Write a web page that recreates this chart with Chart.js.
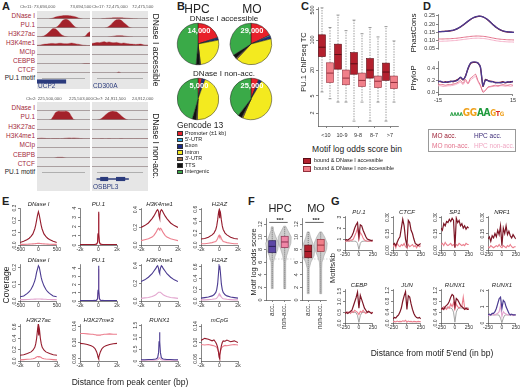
<!DOCTYPE html>
<html>
<head>
<meta charset="utf-8">
<script src="https://cdn.jsdelivr.net/npm/chart.js@4.4.1/dist/chart.umd.min.js"></script>
<style>
  body { margin: 0; background: #fff; }
  #fig { position: relative; width: 520px; height: 390px; overflow: hidden; font-family: "Liberation Sans", Arial, sans-serif; color: #222; }
  #fig canvas { position: absolute; }
  .t { position: absolute; white-space: nowrap; line-height: 1; }
  .box { position: absolute; }
</style>
</head>
<body>
<div id="fig"></div>
<script>
// ---------------- data ----------------
// A: genome browser tracks (relative signal, 24 bins per locus)
const trackNames = ["DNase I", "PU.1", "H3K27ac", "H3K4me1", "MCIp", "CEBPB", "CTCF"];
const ucp2Tracks = [
  [0,0,0,0,0,0,0.05,0.12,0.22,0.3,0.34,0.38,0.4,0.4,0.38,0.35,0.3,0.22,0.12,0.05,0,0,0,0],
  [0,0,0,0,0,0,0,0,0.05,0.2,0.5,0.85,1,1,0.85,0.55,0.25,0.05,0,0,0,0,0,0],
  [0,0.02,0.05,0.12,0.28,0.52,0.8,1,0.95,0.72,0.42,0.2,0.08,0.03,0,0,0,0,0,0,0.02,0.12,0.45,0.62],
  [0.08,0.1,0.14,0.2,0.22,0.26,0.3,0.3,0.27,0.3,0.32,0.3,0.27,0.25,0.3,0.34,0.3,0.24,0.2,0.15,0.1,0.08,0.05,0.05],
  [0,0,0,0,0,0,0,0,0,0,0,0,0,0,0,0,0,0,0,0,0,0,0,0],
  [0,0,0,0,0,0,0,0,0,0,0,0,0,0,0,0,0,0,0,0,0.03,0.05,0.05,0.03],
  [0,0,0,0,0,0,0,0,0,0,0,0,0,0,0,0,0,0,0,0,0,0,0,0]
];
const cd300aTracks = [
  [0,0,0,0,0.03,0.05,0.08,0.1,0.12,0.14,0.15,0.15,0.14,0.12,0.1,0.08,0.06,0.04,0.02,0,0,0,0,0],
  [0,0,0,0,0,0,0.05,0.2,0.45,0.75,0.95,1,0.9,0.65,0.4,0.15,0.03,0,0,0,0,0,0,0],
  [0,0,0,0,0,0,0,0.03,0.06,0.1,0.14,0.16,0.15,0.12,0.08,0.05,0.02,0,0,0,0,0,0,0],
  [0.3,0.35,0.4,0.38,0.45,0.5,0.42,0.48,0.4,0.38,0.42,0.36,0.3,0.35,0.3,0.25,0.22,0.2,0.18,0.2,0.22,0.15,0.12,0.1],
  [0,0,0,0,0,0,0,0,0,0,0,0,0,0,0,0,0,0,0,0,0,0,0,0],
  [0,0,0,0,0,0,0,0,0,0,0,0,0,0,0,0,0,0,0,0,0,0,0,0],
  [0,0,0,0,0,0,0,0,0,0,0,0.12,0,0,0,0,0,0,0,0,0,0,0,0]
];
const chr2Tracks = [
  [0,0,0,0,0,0,0,0,0,0,0.02,0.02,0.02,0,0,0,0,0,0,0,0,0,0,0],
  [0,0,0,0,0,0,0.05,0.4,0.85,1,1,1,1,1,0.85,0.4,0.05,0,0,0,0,0,0,0],
  [0,0,0,0,0,0,0,0,0,0,0,0,0,0,0,0,0,0,0,0,0,0,0,0],
  [0.05,0.08,0.1,0.08,0.06,0.05,0.04,0.05,0.06,0.05,0.04,0.05,0.08,0.1,0.12,0.1,0.12,0.1,0.08,0.05,0.04,0.03,0.02,0.02],
  [0,0,0,0,0,0,0,0,0,0,0,0,0,0,0,0,0,0,0,0,0,0,0,0],
  [0,0,0,0,0,0,0,0,0.04,0.08,0.08,0.08,0.04,0,0,0,0,0,0,0,0,0,0,0],
  [0,0,0,0,0,0,0,0,0,0,0,0,0,0,0,0,0,0,0,0,0,0,0,0]
];
const chr7Tracks = [
  [0,0,0,0,0,0,0,0,0,0,0,0,0,0,0,0,0,0,0,0,0,0,0,0],
  [0,0,0,0.05,0.2,0.45,0.7,0.9,1,1,0.95,0.75,0.5,0.25,0.08,0,0,0,0,0,0,0,0,0],
  [0,0,0,0,0,0,0,0,0,0,0,0,0,0,0,0,0,0,0,0,0,0,0,0],
  [0.04,0.04,0.03,0.04,0.05,0.04,0.04,0.05,0.04,0.04,0.03,0.04,0.05,0.04,0.03,0.04,0.04,0.03,0.04,0.04,0.03,0.03,0.04,0.04],
  [0,0,0,0,0,0,0,0,0,0,0,0,0,0,0,0,0,0,0,0,0,0,0,0],
  [0,0,0,0,0,0,0,0,0,0,0,0,0,0,0,0,0,0,0,0,0,0,0,0],
  [0,0,0,0,0,0,0,0,0,0,0,0,0,0,0,0,0,0,0,0,0,0,0,0]
];
const ucp2Motifs = [12];
const cd300aMotifs = [11];
const chr2Motifs = [1, 2, 3, 12, 23];
const chr7Motifs = [9, 10, 11];
const ucp2Exons = [[0, 12.5]];
const osbpl3Exons = [[3.5, 6.5], [10, 13.5]];
const osbpl3Span = [[2, 15]];

// B: Gencode 13 annotation (% of peaks)
const annotCats = ["Promoter (\u00b11 kb)", "5'-UTR", "Exon", "Intron", "3'-UTR", "TTS", "Intergenic"];
const annotColors = ["#e8202a", "#2aa9e0", "#1b2a88", "#f3ea1f", "#a0704f", "#111111", "#3aaa48"];
const hpcAccPie = [20, 0.5, 1.5, 26, 0.5, 3, 48.5];
const moAccPie = [18, 1, 2, 41, 1, 3, 34];
const hpcNonPie = [3, 0.5, 2, 45, 1, 3, 45.5];
const moNonPie = [6, 0.5, 2, 48, 1, 3, 39.5];
const pieCounts = ["14,000", "29,000", "5,000", "25,000"];

// C: PU.1 ChIP-seq tag count per motif score bin (boxplot stats)
const cBins = ["<10", "10-9", "9-8", "8-7", ">7"];
const accMin = [6.2, 3.6, 1.3, 1.3, 1.3];
const accQ1 = [41, 21, 16, 13, 11.5];
const accMed = [68, 46, 28, 20, 18];
const accQ3 = [132, 80, 51, 37, 29];
const accMax = [560, 380, 290, 195, 205];
const nonMin = [4.3, 3.6, 3.6, 3.6, 3.6];
const nonQ1 = [10.3, 9.1, 8.3, 7.8, 7.4];
const nonMed = [17, 13, 11.5, 11, 10.3];
const nonQ3 = [29.5, 20, 17, 14.5, 14.5];
const nonMax = [195, 165, 140, 118, 95];

// D: conservation around motif
const dX = [-15,-14,-13,-12,-11,-10,-9,-8,-7,-6,-5,-4,-3,-2,-1,0,1,2,3,4,5,6,7,8,9,10,11,12,13,14,15];
const phastMOAcc = [0.155,0.155,0.156,0.157,0.158,0.160,0.163,0.168,0.175,0.184,0.195,0.207,0.219,0.230,0.239,0.245,0.248,0.247,0.242,0.233,0.221,0.207,0.193,0.180,0.170,0.162,0.157,0.154,0.152,0.151,0.150];
const phastHPCAcc = [0.154,0.155,0.155,0.156,0.158,0.161,0.164,0.169,0.176,0.185,0.196,0.208,0.220,0.231,0.240,0.246,0.249,0.248,0.243,0.234,0.222,0.208,0.194,0.181,0.171,0.163,0.158,0.155,0.153,0.151,0.150];
const phastMONon = [0.110,0.110,0.110,0.111,0.111,0.112,0.113,0.114,0.116,0.118,0.120,0.122,0.124,0.126,0.127,0.128,0.128,0.127,0.126,0.124,0.121,0.118,0.115,0.112,0.110,0.108,0.107,0.106,0.105,0.105,0.104];
const phastHPCNon = [0.096,0.096,0.097,0.097,0.098,0.099,0.100,0.101,0.103,0.105,0.107,0.109,0.111,0.113,0.114,0.115,0.115,0.114,0.113,0.111,0.108,0.105,0.102,0.099,0.097,0.095,0.094,0.093,0.092,0.092,0.091];
const phyloMOAcc = [0.19,0.18,0.17,0.18,0.17,0.19,0.18,0.20,0.22,0.25,0.21,0.28,0.40,0.49,0.51,0.51,0.50,0.42,0.10,0.22,0.20,0.19,0.18,0.17,0.16,0.17,0.18,0.16,0.17,0.18,0.18];
const phyloHPCAcc = [0.18,0.19,0.17,0.17,0.18,0.18,0.19,0.19,0.21,0.26,0.22,0.27,0.41,0.50,0.52,0.52,0.50,0.43,0.11,0.21,0.20,0.18,0.18,0.16,0.17,0.16,0.17,0.17,0.18,0.17,0.19];
const phyloMONon = [0.14,0.13,0.13,0.12,0.13,0.13,0.14,0.15,0.17,0.20,0.15,0.22,0.15,0.24,0.27,0.31,0.20,0.12,0.00,0.03,0.09,0.10,0.11,0.12,0.11,0.12,0.13,0.12,0.12,0.13,0.12];
const phyloHPCNon = [0.11,0.11,0.10,0.10,0.11,0.11,0.12,0.13,0.15,0.17,0.13,0.19,0.14,0.21,0.24,0.27,0.18,0.10,0.02,0.04,0.08,0.09,0.10,0.10,0.10,0.11,0.11,0.10,0.11,0.10,0.11];

// E: coverage profiles around peak centers
const xE1 = [-500,-400,-300,-250,-200,-150,-100,-75,-50,-25,0,25,50,75,100,150,200,250,300,400,500];
const xE2 = [-2000,-1600,-1200,-800,-600,-400,-300,-200,-100,-50,0,50,100,200,300,400,600,800,1200,1600,2000];
const eDNaseMOAcc = [0.02,0.03,0.045,0.055,0.07,0.09,0.13,0.16,0.2,0.24,0.27,0.24,0.2,0.16,0.13,0.09,0.07,0.055,0.045,0.03,0.02];
const eDNaseMONon = [0.005,0.005,0.006,0.007,0.008,0.009,0.01,0.011,0.012,0.013,0.013,0.013,0.012,0.011,0.01,0.009,0.008,0.007,0.006,0.005,0.005];
const ePU1MOAcc = [0.05,0.05,0.05,0.06,0.06,0.07,0.08,0.1,0.3,1.2,3.6,1.2,0.3,0.1,0.08,0.07,0.06,0.06,0.05,0.05,0.05];
const ePU1MONon = [0.04,0.04,0.04,0.05,0.05,0.06,0.07,0.09,0.28,1.1,3.4,1.1,0.28,0.09,0.07,0.06,0.05,0.05,0.04,0.04,0.04];
const eK4MOAcc = [0.2,0.22,0.25,0.3,0.33,0.37,0.39,0.4,0.38,0.33,0.3,0.33,0.38,0.4,0.39,0.37,0.33,0.3,0.25,0.22,0.2];
const eK4MONon = [0.05,0.06,0.07,0.09,0.11,0.14,0.16,0.18,0.19,0.18,0.17,0.18,0.19,0.18,0.16,0.14,0.11,0.09,0.07,0.06,0.05];
const eH2AZMOAcc = [0.1,0.11,0.13,0.17,0.2,0.26,0.32,0.42,0.55,0.58,0.45,0.58,0.55,0.42,0.32,0.26,0.2,0.17,0.13,0.11,0.1];
const eH2AZMONon = [0.02,0.02,0.03,0.04,0.05,0.06,0.08,0.11,0.15,0.16,0.13,0.16,0.15,0.11,0.08,0.06,0.05,0.04,0.03,0.02,0.02];
const eDNaseHPCAcc = [0.025,0.03,0.045,0.055,0.07,0.09,0.12,0.14,0.17,0.19,0.21,0.2,0.17,0.14,0.12,0.09,0.07,0.055,0.045,0.03,0.025];
const eDNaseHPCNon = [0.008,0.008,0.009,0.009,0.01,0.01,0.011,0.011,0.012,0.012,0.012,0.012,0.012,0.011,0.011,0.01,0.01,0.009,0.009,0.008,0.008];
const ePU1HPCAcc = [0.04,0.04,0.05,0.05,0.06,0.07,0.08,0.1,0.3,1.3,4.3,1.3,0.3,0.1,0.08,0.07,0.06,0.05,0.05,0.04,0.04];
const ePU1HPCNon = [0.03,0.03,0.04,0.04,0.05,0.06,0.07,0.09,0.26,1.1,3.9,1.1,0.26,0.09,0.07,0.06,0.05,0.04,0.04,0.03,0.03];
const eK4HPCAcc = [0.22,0.24,0.27,0.31,0.34,0.37,0.39,0.4,0.37,0.33,0.31,0.33,0.37,0.4,0.39,0.37,0.34,0.31,0.27,0.24,0.22];
const eK4HPCNon = [0.03,0.035,0.04,0.05,0.06,0.07,0.08,0.09,0.1,0.1,0.1,0.1,0.1,0.09,0.08,0.07,0.06,0.05,0.04,0.035,0.03];
const eH2AZHPCAcc = [0.05,0.06,0.07,0.09,0.11,0.15,0.2,0.3,0.5,0.62,0.55,0.62,0.5,0.3,0.2,0.15,0.11,0.09,0.07,0.06,0.05];
const eH2AZHPCNon = [0.02,0.02,0.025,0.03,0.035,0.04,0.05,0.07,0.1,0.12,0.1,0.12,0.1,0.07,0.05,0.04,0.035,0.03,0.025,0.02,0.02];
const eK27acAcc = [0.1,0.11,0.13,0.16,0.19,0.24,0.3,0.4,0.56,0.62,0.45,0.62,0.56,0.4,0.3,0.24,0.19,0.16,0.13,0.11,0.1];
const eK27acNon = [0.02,0.025,0.03,0.035,0.04,0.05,0.06,0.07,0.08,0.08,0.07,0.08,0.08,0.07,0.06,0.05,0.04,0.035,0.03,0.025,0.02];
const eK27me3Acc = [0.098,0.097,0.095,0.092,0.09,0.086,0.082,0.077,0.07,0.064,0.06,0.064,0.07,0.077,0.082,0.086,0.09,0.092,0.095,0.097,0.098];
const eK27me3Non = [0.122,0.122,0.121,0.12,0.12,0.119,0.119,0.118,0.118,0.118,0.118,0.118,0.118,0.118,0.119,0.119,0.12,0.12,0.121,0.12,0.12];
const eRUNX1Acc = [0.05,0.05,0.06,0.06,0.07,0.08,0.1,0.14,0.35,0.8,1.2,0.8,0.35,0.14,0.1,0.08,0.07,0.06,0.06,0.05,0.05];
const eRUNX1Non = [0.03,0.03,0.03,0.035,0.035,0.04,0.045,0.05,0.08,0.12,0.16,0.12,0.08,0.05,0.045,0.04,0.035,0.035,0.03,0.03,0.03];
const eMCpGAcc = [0.105,0.11,0.108,0.104,0.106,0.1,0.095,0.088,0.075,0.065,0.06,0.068,0.08,0.092,0.1,0.104,0.103,0.106,0.102,0.104,0.1];
const eMCpGNon = [0.095,0.094,0.095,0.093,0.092,0.09,0.088,0.084,0.076,0.07,0.066,0.071,0.078,0.086,0.089,0.091,0.093,0.092,0.094,0.095,0.094];

// F: motif log odds score (violin + box stats: min, q1, median, q3, max)
const fLevels = [1,2,3,4,5,6,7,8,9,10,11,12];
const fThreshold = 6.5;
const hpcAccStats = [1.8, 7.5, 8.5, 9.4, 11.6];
const hpcNonStats = [1.8, 8.3, 9.2, 10.1, 11.7];
const moAccStats = [1.0, 6.7, 7.7, 8.7, 10.8];
const moNonStats = [1.0, 7.7, 8.7, 9.6, 10.8];
const hpcAccDen = [0.03,0.05,0.06,0.08,0.1,0.18,0.45,0.85,1.0,0.55,0.2,0.02];
const hpcNonDen = [0.02,0.04,0.05,0.06,0.08,0.12,0.3,0.6,0.95,1.0,0.5,0.05];
const moAccDen = [0.05,0.06,0.08,0.1,0.15,0.4,0.9,1.0,0.7,0.35,0.08,0];
const moNonDen = [0.04,0.05,0.06,0.08,0.1,0.2,0.5,0.9,1.0,0.6,0.15,0];

// G: motif density around motif 5' end
const xG = [-250,-225,-200,-175,-150,-125,-100,-75,-50,-25,0,25,50,75,100,125,150,175,200,225,250];
const gPU1Acc = [0.9,0.95,0.9,1.0,1.1,1.3,1.6,2.0,2.3,2.5,1.2,2.3,2.2,1.8,1.5,1.2,1.0,0.95,0.9,0.85,0.9];
const gPU1Non = [0.8,0.8,0.85,0.8,0.9,0.9,1.0,1.3,1.6,2.0,1.0,1.6,1.4,1.1,0.9,0.85,0.8,0.8,0.85,0.8,0.8];
const gPU1Bg = [0.8,0.8,0.8,0.8,0.8,0.8,0.8,0.8,0.78,0.6,0.05,0.6,0.78,0.8,0.8,0.8,0.8,0.8,0.8,0.8,0.8];
const gCTCFAcc = [0.05,0.06,0.04,0.07,0.1,0.12,0.2,0.28,0.22,0.1,0.04,0.27,0.25,0.18,0.15,0.1,0.06,0.05,0.04,0.05,0.06];
const gCTCFNon = [0.03,0.05,0.02,0.06,0.04,0.03,0.05,0.04,0.06,0.03,0.02,0.05,0.03,0.04,0.05,0.03,0.04,0.02,0.05,0.03,0.04];
const gSP1Acc = [0.2,0.18,0.24,0.22,0.26,0.25,0.28,0.26,0.29,0.27,0.02,0.29,0.25,0.27,0.22,0.24,0.2,0.22,0.19,0.21,0.2];
const gSP1Non = [0.05,0.06,0.04,0.07,0.05,0.04,0.05,0.06,0.04,0.05,0.03,0.05,0.04,0.06,0.05,0.04,0.05,0.04,0.06,0.05,0.05];
const gNRF1Acc = [0.1,0.12,0.08,0.13,0.11,0.15,0.12,0.18,0.14,0.22,0.04,0.2,0.15,0.22,0.14,0.17,0.13,0.11,0.14,0.12,0.1];
const gNRF1Non = [0.03,0.02,0.04,0.03,0.02,0.03,0.04,0.03,0.05,0.03,0.02,0.04,0.03,0.02,0.04,0.03,0.05,0.03,0.02,0.03,0.03];
const gCEBPAcc = [0.45,0.5,0.45,0.5,0.55,0.6,0.8,1.0,1.2,1.45,0.7,1.3,1.1,0.9,0.7,0.6,0.5,0.55,0.5,0.45,0.5];
const gCEBPNon = [0.5,0.48,0.52,0.5,0.45,0.55,0.5,0.6,0.55,0.5,0.4,0.55,0.5,0.6,0.5,0.45,0.5,0.55,0.5,0.48,0.5];
const gCEBPBg = [0.5,0.5,0.5,0.5,0.5,0.5,0.5,0.5,0.48,0.35,0.03,0.35,0.48,0.5,0.5,0.5,0.5,0.5,0.5,0.5,0.5];
const gJUNAcc = [0.15,0.2,0.18,0.25,0.3,0.4,0.55,0.8,1.0,1.15,0.5,1.0,0.95,0.7,0.5,0.35,0.25,0.2,0.18,0.2,0.15];
const gJUNNon = [0.05,0.06,0.04,0.07,0.05,0.06,0.05,0.08,0.06,0.1,0.03,0.07,0.05,0.06,0.04,0.06,0.05,0.04,0.06,0.05,0.05];
const gRUNXAcc = [0.5,0.55,0.5,0.6,0.65,0.7,0.8,0.95,1.05,1.0,0.6,0.9,0.85,0.75,0.65,0.6,0.55,0.5,0.55,0.5,0.5];
const gRUNXNon = [0.55,0.5,0.6,0.55,0.5,0.6,0.55,0.7,0.6,0.75,0.5,0.7,0.6,0.55,0.6,0.6,0.95,0.55,0.5,0.55,0.5];
const gRUNXBg = [0.55,0.55,0.55,0.55,0.55,0.55,0.55,0.55,0.52,0.4,0.03,0.4,0.52,0.55,0.55,0.55,0.55,0.55,0.55,0.55,0.55];
const gRUNXHAcc = [0.5,0.55,0.5,0.6,0.6,0.7,0.9,1.2,1.5,1.6,0.9,1.4,1.3,1.0,0.8,0.6,0.5,0.55,0.5,0.5,0.5];
const gRUNXHNon = [0.5,0.45,0.5,0.55,0.5,0.5,0.55,0.6,0.7,1.1,0.4,0.7,0.6,0.55,0.5,0.5,0.55,0.5,0.45,0.5,0.5];
const gRUNXHBg = [0.5,0.5,0.5,0.5,0.5,0.5,0.5,0.5,0.48,0.3,0.02,0.3,0.48,0.5,0.5,0.5,0.5,0.5,0.5,0.5,0.5];

// colours
const MO_ACC = "#951b2c", MO_NON = "#ec7f8e", HPC_ACC = "#4b3b91", HPC_NON = "#e3a6cf", BG = "#9a9a9a";

// ---------------- helpers ----------------
const fig = document.getElementById("fig");
Chart.defaults.font.family = '"Liberation Sans", Arial, sans-serif';
Chart.defaults.font.size = 5;
Chart.defaults.color = "#333";
Chart.defaults.animation = false;
Chart.defaults.responsive = false;
Chart.defaults.plugins.legend.display = false;
Chart.defaults.plugins.tooltip.enabled = false;
Chart.defaults.elements.point.radius = 0;

function text(s, x, y, o = {}) {
  const d = document.createElement("div");
  d.className = "t";
  d.innerHTML = s;
  d.style.left = x + "px";
  d.style.top = y + "px";
  d.style.fontSize = (o.size || 6) + "px";
  if (o.color) d.style.color = o.color;
  if (o.bold) d.style.fontWeight = "bold";
  if (o.italic) d.style.fontStyle = "italic";
  const ax = o.anchor === "l" ? "0" : o.anchor === "r" ? "-100%" : "-50%";
  d.style.transform = "translate(" + ax + ",-50%)" + (o.rot ? " rotate(" + o.rot + "deg)" : "");
  fig.appendChild(d);
  return d;
}

function rect(x, y, w, h, css) {
  const d = document.createElement("div");
  d.className = "box";
  Object.assign(d.style, { left: x + "px", top: y + "px", width: w + "px", height: h + "px" }, css);
  fig.appendChild(d);
}

function chart(x, y, w, h, cfg) {
  const c = document.createElement("canvas");
  c.width = w; c.height = h;
  c.style.left = x + "px"; c.style.top = y + "px";
  fig.appendChild(c);
  return new Chart(c, cfg);
}

// R-like axis
function ax(o) {
  const s = {
    type: o.type || "linear",
    offset: !!o.offset,
    grid: { drawOnChartArea: false, drawTicks: true, tickLength: 2, color: "#333", lineWidth: 0.6 },
    border: { display: true, color: "#333", width: 0.6 },
    ticks: { display: !o.hideLabels, autoSkip: false, maxRotation: o.xrot || 0, minRotation: o.xrot || 0,
             padding: o.pad != null ? o.pad : 1, font: { size: o.fs || 5 }, color: "#333" }
  };
  if (o.min != null) s.min = o.min;
  if (o.max != null) s.max = o.max;
  if (o.ticks) s.afterBuildTicks = sc => { sc.ticks = o.ticks.map(v => ({ value: v })); };
  if (o.fmt) s.ticks.callback = o.fmt;
  if (o.size != null) s.afterFit = sc => { if (sc.isHorizontal()) sc.height = o.size; else sc.width = o.size; };
  return s;
}

// rotated y tick labels (R style, las = 0)
function rotY(labels, fs) {
  return {
    id: "rotY",
    afterDraw(ch) {
      const s = ch.scales.y, c = ch.ctx;
      c.save();
      c.font = (fs || 5) + 'px "Liberation Sans", Arial, sans-serif';
      c.fillStyle = "#333";
      c.textAlign = "center";
      c.textBaseline = "bottom";
      s.ticks.forEach((t, i) => {
        c.save();
        c.translate(s.right - 3, s.getPixelForValue(t.value));
        c.rotate(-Math.PI / 2);
        c.fillText(labels[i], 0, 0);
        c.restore();
      });
      c.restore();
    }
  };
}

function linePlot(L, T, W, H, xs, xT, xL, yMin, yMax, yT, yL, sets, title) {
  const padL = 10, padB = 8;
  chart(L - padL, T - 3, W + padL + 4, H + padB + 3, {
    type: "line",
    data: {
      datasets: sets.map(s => ({
        data: xs.map((x, i) => ({ x: x, y: s.v[i] })),
        borderColor: s.c, borderWidth: s.w || 1.1, pointRadius: 0, fill: false, tension: 0
      }))
    },
    options: {
      layout: { padding: { top: 3, right: 4 } },
      scales: {
        x: ax({ min: xs[0], max: xs[xs.length - 1], ticks: xT, fmt: (v, i) => xL[i], size: padB, pad: 0 }),
        y: ax({ min: yMin, max: yMax, ticks: yT, size: padL, hideLabels: true })
      }
    },
    plugins: [rotY(yL)]
  });
  if (title) text(title, L + W / 2, T - 4, { size: 6, italic: true });
}

// ---------------- panel letters ----------------
[["A", 2, 6], ["B", 177, 6], ["C", 301, 6], ["D", 423, 6], ["E", 2, 201], ["F", 248, 201], ["G", 331, 201]]
  .forEach(p => text(p[0], p[1], p[2], { size: 11, bold: true, anchor: "l" }));

// ---------------- A: browser tracks ----------------
const baseLine = {
  id: "baseLine",
  afterDraw(ch) {
    const a = ch.chartArea, c = ch.ctx;
    c.save(); c.strokeStyle = "#8a8a8a"; c.lineWidth = 0.6;
    c.beginPath(); c.moveTo(a.left, a.bottom - 0.5); c.lineTo(a.right, a.bottom - 0.5); c.stroke(); c.restore();
  }
};
function track(L, T, W, H, vals) {
  chart(L, T, W, H, {
    type: "line",
    data: { labels: vals.map((v, i) => i), datasets: [{ data: vals, fill: "origin", backgroundColor: "#a3222b", borderColor: "#a3222b", borderWidth: 0.4, tension: 0.3 }] },
    options: { scales: { x: { display: false }, y: { display: false, min: 0, max: 1.05 } } },
    plugins: [baseLine]
  });
}
function motifRow(L, T, W, H, idx) {
  chart(L, T, W, H, {
    type: "scatter",
    data: { datasets: [{ data: idx.map(i => ({ x: i, y: 0.5 })), pointStyle: "rect", pointRadius: 1.4, backgroundColor: "#222", borderColor: "#222" }] },
    options: { scales: { x: { display: false, min: 0, max: 23 }, y: { display: false, min: 0, max: 1 } } },
    plugins: [baseLine]
  });
}
function geneRow(L, T, W, H, exons, span) {
  const ds = [];
  if (span) span.forEach(s => ds.push({ data: [s], backgroundColor: "#2b3b7d", barThickness: 1, grouped: false }));
  exons.forEach(e => ds.push({ data: [e], backgroundColor: "#2b3b7d", barThickness: 3.5, grouped: false }));
  chart(L, T, W, H, {
    type: "bar",
    data: { labels: ["g"], datasets: ds },
    options: { indexAxis: "y", scales: { x: { display: false, min: 0, max: 23 }, y: { display: false } } }
  });
}

const colX = [37, 92], colW = [53, 56];
const blockTop = [[15, 24, 33, 42, 51, 60, 69, 77], [107, 116.3, 125.6, 135, 144.3, 153.6, 163, 171]];
const blockLoci = [[ucp2Tracks, cd300aTracks], [chr2Tracks, chr7Tracks]];
const blockMotifs = [[ucp2Motifs, cd300aMotifs], [chr2Motifs, chr7Motifs]];
rect(colX[0], 11, colW[0], 78, { background: "#e6e6e6" });
rect(colX[1], 11, colW[1], 78, { background: "#e6e6e6" });
rect(colX[0], 102, colW[0], 89, { background: "#e6e6e6" });
rect(colX[1], 102, colW[1], 89, { background: "#e6e6e6" });
blockTop.forEach((rows, b) => {
  trackNames.forEach((nm, t) => {
    text(nm, 35, rows[t] + 1, { size: 6.5, color: "#a3293a", anchor: "r" });
    [0, 1].forEach(c => track(colX[c], rows[t] - 5, colW[c], 9, blockLoci[b][c][t]));
  });
  text("PU.1 motif", 35, rows[7] + 1, { size: 6.5, anchor: "r" });
  [0, 1].forEach(c => motifRow(colX[c], rows[7] - 3, colW[c], 7, blockMotifs[b][c]));
});
geneRow(colX[0], 79, colW[0], 5, ucp2Exons, null);
geneRow(colX[1], 176, colW[1], 6, osbpl3Exons, osbpl3Span);
text("UCP2", 38, 86, { size: 6.5, color: "#2b3b7d", anchor: "l" });
text("CD300A", 93, 86, { size: 6.5, color: "#2b3b7d", anchor: "l" });
text("OSBPL3", 93, 187, { size: 6.5, color: "#2b3b7d", anchor: "l" });
text("Chr11: 73,694,000", 20, 7, { size: 4.3, color: "#555", anchor: "l" });
text("73,694,500", 70, 7, { size: 4.3, color: "#555", anchor: "l" });
text("Chr17: 72,475,000", 92, 7, { size: 4.3, color: "#555", anchor: "l" });
text("72,475,500", 132, 7, { size: 4.3, color: "#555", anchor: "l" });
text("Chr2: 225,500,000", 26, 99, { size: 4.3, color: "#555", anchor: "l" });
text("225,503,000", 69, 99, { size: 4.3, color: "#555", anchor: "l" });
text("Chr7: 24,911,500", 93, 99, { size: 4.3, color: "#555", anchor: "l" });
text("24,912,000", 132, 99, { size: 4.3, color: "#555", anchor: "l" });
text("DNase I accessible", 156, 50, { size: 8.5, rot: 90 });
text("DNase I non-acc.", 156, 146, { size: 8.5, rot: 90 });

// ---------------- B: pies ----------------
const pieCenters = [[198, 44], [251, 44], [198, 99], [251, 99]];
[hpcAccPie, moAccPie, hpcNonPie, moNonPie].forEach((vals, i) => {
  const [cx, cy] = pieCenters[i];
  chart(cx - 22, cy - 22, 44, 44, {
    type: "pie",
    data: { labels: annotCats, datasets: [{ data: vals, backgroundColor: annotColors, borderColor: "#222", borderWidth: 0.5 }] },
    options: { layout: { padding: 1 } }
  });
  text(pieCounts[i], cx + 1, cy - 13, { size: 7.5, bold: true, color: "#fff" });
});
text("HPC", 197, 9, { size: 12 });
text("MO", 252, 9, { size: 12 });
text("DNase I accessible", 224, 19, { size: 8 });
text("DNase I non-acc.", 224, 74, { size: 8 });
text("Gencode 13", 177, 125, { size: 8.5, anchor: "l" });
annotCats.forEach((nm, i) => {
  const y = 133.5 + 6.4 * i;
  rect(177, y - 2.3, 6, 4.6, { background: annotColors[i], border: "0.5px solid #333", boxSizing: "border-box" });
  text(nm, 185, y, { size: 5.5, anchor: "l" });
});

// ---------------- C: boxplots ----------------
const cBoxes = {
  id: "cBoxes",
  afterDatasetsDraw(ch) {
    const xs = ch.scales.x, ys = ch.scales.y, c = ch.ctx, a = ch.chartArea;
    const groups = [
      { mn: accMin, q1: accQ1, md: accMed, q3: accQ3, mx: accMax, fill: "#b3202e", line: "#5a0d15", dx: -4 },
      { mn: nonMin, q1: nonQ1, md: nonMed, q3: nonQ3, mx: nonMax, fill: "#f07f89", line: "#93303d", dx: 4 }
    ];
    c.save();
    c.beginPath(); c.rect(a.left, a.top - 2, a.right - a.left, a.bottom - a.top + 4); c.clip();
    groups.forEach(g => cBins.forEach((b, i) => {
      const cx = xs.getPixelForValue(i) + g.dx, py = v => ys.getPixelForValue(v), hw = 3.5;
      c.strokeStyle = "#555"; c.lineWidth = 0.6; c.setLineDash([1.4, 1.2]);
      c.beginPath(); c.moveTo(cx, py(g.q3[i])); c.lineTo(cx, py(g.mx[i])); c.moveTo(cx, py(g.q1[i])); c.lineTo(cx, py(g.mn[i])); c.stroke();
      c.setLineDash([]);
      c.beginPath(); c.moveTo(cx - 1.5, py(g.mx[i])); c.lineTo(cx + 1.5, py(g.mx[i])); c.moveTo(cx - 1.5, py(g.mn[i])); c.lineTo(cx + 1.5, py(g.mn[i])); c.stroke();
      c.fillStyle = g.fill; c.strokeStyle = g.line; c.lineWidth = 0.6;
      c.fillRect(cx - hw, py(g.q3[i]), 2 * hw, py(g.q1[i]) - py(g.q3[i]));
      c.strokeRect(cx - hw, py(g.q3[i]), 2 * hw, py(g.q1[i]) - py(g.q3[i]));
      c.lineWidth = 1; c.beginPath(); c.moveTo(cx - hw, py(g.md[i])); c.lineTo(cx + hw, py(g.md[i])); c.stroke();
    }));
    c.restore();
  }
};
chart(305, 0, 96, 142, {
  type: "line",
  data: { labels: cBins, datasets: [{ data: [null, null, null, null, null] }] },
  options: {
    layout: { padding: { top: 7, right: 3 } },
    scales: {
      x: ax({ type: "category", offset: true, size: 16, pad: 4, fs: 5.5 }),
      y: ax({ type: "logarithmic", min: 1, max: 586, ticks: [2, 5, 20, 100, 500], size: 13, hideLabels: true })
    }
  },
  plugins: [rotY(["2", "5", "20", "100", "500"], 5.5), cBoxes]
});
text("PU.1 ChIPseq TC", 304, 62, { size: 7.5, rot: -90 });
text("Motif log odds score bin", 357, 149, { size: 8.5 });
rect(303, 158, 8, 5.5, { background: "#b3202e", border: "0.5px solid #5a0d15", boxSizing: "border-box" });
rect(303, 166, 8, 5.5, { background: "#f07f89", border: "0.5px solid #93303d", boxSizing: "border-box" });
text("bound &amp; DNase I accessible", 314, 161, { size: 5.5, anchor: "l" });
text("bound &amp; DNase I non-accessible", 314, 169, { size: 5.5, anchor: "l" });

// ---------------- D: conservation ----------------
function dSets(a, b, c2, d) {
  return [
    { data: a, borderColor: HPC_ACC, borderWidth: 1.3 },
    { data: b, borderColor: "#7d1a2c", borderWidth: 1.3 },
    { data: c2, borderColor: "#e2708a", borderWidth: 1 },
    { data: d, borderColor: "#f4b0c8", borderWidth: 1 }
  ].map(s => ({ ...s, data: dX.map((x, i) => ({ x: x, y: s.data[i] })), pointRadius: 0, tension: 0.2 }));
}
chart(417, 10, 100, 44, {
  type: "line",
  data: { datasets: dSets(phastHPCAcc, phastMOAcc, phastMONon, phastHPCNon) },
  options: {
    layout: { padding: { top: 4, right: 3, bottom: 1 } },
    scales: {
      x: { type: "linear", display: false, min: -15, max: 15 },
      y: ax({ min: 0.045, max: 0.26, ticks: [0.05, 0.1, 0.15, 0.2, 0.25], fmt: v => v.toFixed(2), size: 21, fs: 5.5 })
    }
  }
});
chart(417, 57, 100, 47, {
  type: "line",
  data: { datasets: dSets(phyloHPCAcc, phyloMOAcc, phyloMONon, phyloHPCNon) },
  options: {
    layout: { padding: { top: 3, right: 3 } },
    scales: {
      x: ax({ min: -15, max: 15, ticks: [-15, 15], fmt: v => String(v), size: 10, pad: 1, fs: 5.5 }),
      y: ax({ min: -0.03, max: 0.53, ticks: [0, 0.2, 0.4], fmt: v => v.toFixed(1), size: 21, fs: 5.5 })
    }
  }
});
text("PhastCons", 414, 33, { size: 8, rot: -90 });
text("PhyloP", 414, 78, { size: 8, rot: -90 });
const logo = text(
  '<span style="color:#1f9a3c;font-size:5px">AAAA</span>' +
  '<span style="color:#f0a11c;font-size:10px">GG</span>' +
  '<span style="color:#1f9a3c;font-size:10px">AA</span>' +
  '<span style="color:#f0a11c;font-size:8px">G</span>' +
  '<span style="color:#d8261f;font-size:7px">T</span>' +
  '<span style="color:#f0a11c;font-size:6px">G</span>',
  477, 113, { size: 8, bold: true });
logo.style.fontFamily = '"DejaVu Sans Condensed", "DejaVu Sans", sans-serif';
logo.style.letterSpacing = "-0.3px";
rect(428, 129, 88, 23, { border: "0.7px solid #999", boxSizing: "border-box" });
text("MO acc.", 432, 136, { size: 6.5, color: "#9a1b30", anchor: "l" });
text("HPC acc.", 474, 136, { size: 6.5, color: "#3d2c78", anchor: "l" });
text("MO non-acc.", 432, 145.5, { size: 6.5, color: "#e2708a", anchor: "l" });
text("HPC non-acc.", 474, 145.5, { size: 6.5, color: "#f0a8c4", anchor: "l" });

// ---------------- E: coverage profiles ----------------
const eLeft = [20, 80, 141, 201], eW = 37;
const eTop = [208, 264, 324], eH = 37;
const tk2 = [-2000, 0, 2000], tl2 = ["-2k", "0", "2k"], tk1 = [-500, 0, 500], tl1 = ["-500", "0", "500"];
const mo = (a, b) => [{ v: a, c: MO_ACC }, { v: b, c: MO_NON }];
const hpc = (a, b) => [{ v: a, c: HPC_ACC }, { v: b, c: HPC_NON }];
linePlot(eLeft[0], eTop[0], eW, eH, xE1, tk1, tl1, 0, 0.3, [0, 0.1, 0.2, 0.3], ["0.0", "0.1", "0.2", "0.3"], mo(eDNaseMOAcc, eDNaseMONon), "DNase I");
linePlot(eLeft[1], eTop[0], eW, eH, xE2, tk2, tl2, 0, 4, [0, 1, 2, 3, 4], ["0", "1", "2", "3", "4"], mo(ePU1MOAcc, ePU1MONon), "PU.1");
linePlot(eLeft[2], eTop[0], eW, eH, xE2, tk2, tl2, 0, 0.42, [0, 0.2, 0.4], ["0.0", "0.2", "0.4"], mo(eK4MOAcc, eK4MONon), "H3K4me1");
linePlot(eLeft[3], eTop[0], eW, eH, xE2, tk2, tl2, 0, 0.62, [0, 0.2, 0.4, 0.6], ["0.0", "0.2", "0.4", "0.6"], mo(eH2AZMOAcc, eH2AZMONon), "H2AZ");
linePlot(eLeft[0], eTop[1], eW, eH, xE1, tk1, tl1, 0, 0.22, [0, 0.1, 0.2], ["0.0", "0.1", "0.2"], hpc(eDNaseHPCAcc, eDNaseHPCNon), "DNase I");
linePlot(eLeft[1], eTop[1], eW, eH, xE2, tk2, tl2, 0, 4.5, [0, 1, 2, 3, 4], ["0", "1", "2", "3", "4"], hpc(ePU1HPCAcc, ePU1HPCNon), "PU.1");
linePlot(eLeft[2], eTop[1], eW, eH, xE2, tk2, tl2, 0, 0.42, [0, 0.2, 0.4], ["0.0", "0.2", "0.4"], hpc(eK4HPCAcc, eK4HPCNon), "H3K4me1");
linePlot(eLeft[3], eTop[1], eW, eH, xE2, tk2, tl2, 0, 0.65, [0, 0.2, 0.4, 0.6], ["0.0", "0.2", "0.4", "0.6"], hpc(eH2AZHPCAcc, eH2AZHPCNon), "H2AZ");
linePlot(eLeft[0], eTop[2], eW, eH, xE2, tk2, tl2, 0, 0.65, [0, 0.2, 0.4, 0.6], ["0.0", "0.2", "0.4", "0.6"], mo(eK27acAcc, eK27acNon), "H3K27ac");
linePlot(eLeft[1], eTop[2], eW, eH, xE2, tk2, tl2, 0.055, 0.145, [0.06, 0.1, 0.14], ["0.06", "0.10", "0.14"], mo(eK27me3Acc, eK27me3Non), "H3K27me3");
linePlot(eLeft[2], eTop[2], eW, eH, xE2, tk2, tl2, 0, 1.55, [0, 0.5, 1, 1.5], ["0", "0.5", "1.0", "1.5"], hpc(eRUNX1Acc, eRUNX1Non), "RUNX1");
linePlot(eLeft[3], eTop[2], eW, eH, xE2, tk2, tl2, 0.055, 0.145, [0.06, 0.1, 0.14], ["0.06", "0.10", "0.14"], mo(eMCpGAcc, eMCpGNon), "mCpG");
text("Coverage", 6, 285, { size: 8.5, rot: -90 });
text("Distance from peak center (bp)", 130, 382, { size: 8.5 });

// ---------------- F: violins ----------------
function violins(groups) {
  return {
    id: "violins",
    afterDatasetsDraw(ch) {
      const xs = ch.scales.x, ys = ch.scales.y, c = ch.ctx, a = ch.chartArea, py = v => ys.getPixelForValue(v);
      c.save();
      c.strokeStyle = "#c0c0c0"; c.lineWidth = 0.7; c.setLineDash([1.5, 1.5]);
      c.beginPath(); c.moveTo(a.left, py(fThreshold)); c.lineTo(a.right + 8, py(fThreshold)); c.stroke();
      c.setLineDash([]);
      groups.forEach((g, i) => {
        const cx = xs.getPixelForValue(i), [mn, q1, md, q3, mx] = g.st, hw = 6.5;
        const pts = [[mn, 0.15]];
        fLevels.forEach((lv, k) => { if (lv > mn && lv < mx) pts.push([lv, Math.max(g.den[k], 0.15)]); });
        pts.push([mx, 0.15]);
        c.beginPath();
        pts.forEach(([v, d], k) => { const px = cx + d * hw; k ? c.lineTo(px, py(v)) : c.moveTo(px, py(v)); });
        for (let k = pts.length - 1; k >= 0; k--) c.lineTo(cx - pts[k][1] * hw, py(pts[k][0]));
        c.closePath(); c.fillStyle = "#cfcfcf"; c.fill(); c.strokeStyle = "#a5a5a5"; c.lineWidth = 0.6; c.stroke();
        c.strokeStyle = "#333"; c.setLineDash([1, 1]);
        c.beginPath(); c.moveTo(cx, py(q3)); c.lineTo(cx, py(mx)); c.moveTo(cx, py(q1)); c.lineTo(cx, py(mn)); c.stroke();
        c.setLineDash([]);
        c.fillStyle = g.fill; c.strokeStyle = g.line; c.lineWidth = 0.7;
        c.fillRect(cx - 3.5, py(q3), 7, py(q1) - py(q3)); c.strokeRect(cx - 3.5, py(q3), 7, py(q1) - py(q3));
        c.lineWidth = 1; c.beginPath(); c.moveTo(cx - 3.5, py(md)); c.lineTo(cx + 3.5, py(md)); c.stroke();
      });
      const by = py(12.3);
      c.strokeStyle = "#222"; c.lineWidth = 0.7;
      c.beginPath(); c.moveTo(xs.getPixelForValue(0) - 3, by); c.lineTo(xs.getPixelForValue(1) + 3, by); c.stroke();
      c.restore();
    }
  };
}
function fPanel(L, groups) {
  chart(L - 9, 211, 9 + 27 + 2, 130, {
    type: "line",
    data: { labels: ["acc.", "non-acc."], datasets: [{ data: [null, null] }] },
    options: {
      layout: { padding: { top: 7, right: 2 } },
      scales: {
        x: ax({ type: "category", offset: true, size: 41, pad: 2, fs: 6.5, xrot: 90 }),
        y: ax({ min: 0, max: 13, ticks: [0, 2, 4, 6, 8, 10, 12], size: 9, hideLabels: true })
      }
    },
    plugins: [rotY(["0", "2", "4", "6", "8", "10", "12"], 5.5), violins(groups)]
  });
}
fPanel(266, [
  { st: hpcAccStats, den: hpcAccDen, fill: "#5d47a6", line: "#2a1f55" },
  { st: hpcNonStats, den: hpcNonDen, fill: "#ef86a6", line: "#8a3050" }
]);
fPanel(302, [
  { st: moAccStats, den: moAccDen, fill: "#b3202e", line: "#5a0d15" },
  { st: moNonStats, den: moNonDen, fill: "#f07f89", line: "#93303d" }
]);
text("HPC", 280, 208, { size: 11 });
text("MO", 316, 208, { size: 11 });
text("***", 280, 219.5, { size: 6, bold: true });
text("***", 316, 219.5, { size: 6, bold: true });
text("Motif log odds score", 254, 262, { size: 7.5, rot: -90 });

// ---------------- G: motif densities ----------------
const gLeft = [345, 393, 441, 488], gW = 28, gTop = [216, 289], gH = 34;
const tkG = [-250, 0, 250], tlG = ["-250", "0", "250"];
const g3 = (a, b, bg) => [{ v: a, c: "#7d1626", w: 1.2 }, { v: b, c: MO_NON }].concat(bg ? [{ v: bg, c: BG, w: 0.9 }] : []);
linePlot(gLeft[0], gTop[0], gW, gH, xG, tkG, tlG, 0, 3.1, [0, 1, 2, 3], ["0", "1", "2", "3"], g3(gPU1Acc, gPU1Non, gPU1Bg), "PU.1");
linePlot(gLeft[1], gTop[0], gW, gH, xG, tkG, tlG, 0, 0.31, [0, 0.15, 0.3], ["0.00", "0.15", "0.30"], g3(gCTCFAcc, gCTCFNon), "CTCF");
linePlot(gLeft[2], gTop[0], gW, gH, xG, tkG, tlG, 0, 0.31, [0, 0.15, 0.3], ["0.00", "0.15", "0.30"], g3(gSP1Acc, gSP1Non), "SP1");
linePlot(gLeft[3], gTop[0], gW, gH, xG, tkG, tlG, 0, 0.31, [0, 0.15, 0.3], ["0.00", "0.15", "0.30"], g3(gNRF1Acc, gNRF1Non), "NRF1");
linePlot(gLeft[0], gTop[1], gW, gH, xG, tkG, tlG, 0, 1.6, [0, 0.5, 1, 1.5], ["0.0", "0.5", "1.0", "1.5"], g3(gCEBPAcc, gCEBPNon, gCEBPBg), "CEBP");
linePlot(gLeft[1], gTop[1], gW, gH, xG, tkG, tlG, 0, 1.25, [0, 0.4, 0.8, 1.2], ["0.0", "0.4", "0.8", "1.2"], g3(gJUNAcc, gJUNNon), "JUN");
linePlot(gLeft[2], gTop[1], gW, gH, xG, tkG, tlG, 0, 1.25, [0, 0.4, 0.8, 1.2], ["0.0", "0.4", "0.8", "1.2"], g3(gRUNXAcc, gRUNXNon, gRUNXBg), "RUNX1");
linePlot(gLeft[3], gTop[1], gW, gH, xG, tkG, tlG, 0, 2.1, [0, 1, 2], ["0", "1", "2"],
  [{ v: gRUNXHAcc, c: HPC_ACC, w: 1.2 }, { v: gRUNXHNon, c: HPC_NON }, { v: gRUNXHBg, c: BG, w: 0.9 }], "RUNX1");
text("Motifs/kb", 333, 268, { size: 7.5, rot: -90 });
text("Distance from motif 5'end (in bp)", 432, 353, { size: 8.5 });
</script>
</body>
</html>
